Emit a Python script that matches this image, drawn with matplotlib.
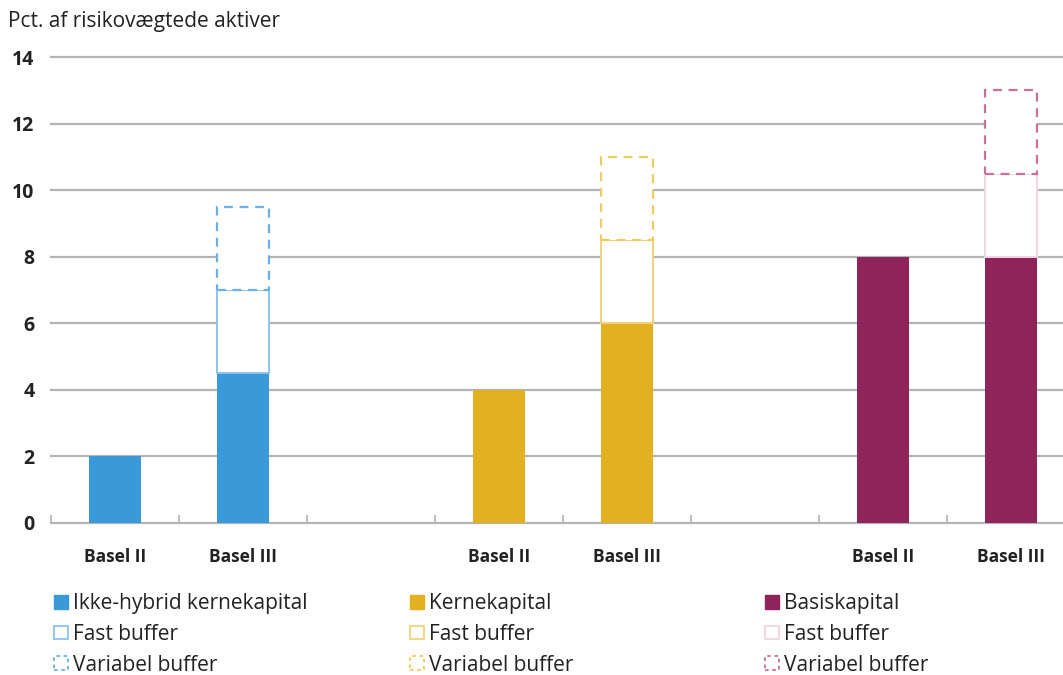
import matplotlib
matplotlib.use("Agg")
import matplotlib.pyplot as plt
from matplotlib.patches import Patch

# ---- data ----
categories = ["Basel II", "Basel III", "", "Basel II", "Basel III", "", "Basel II", "Basel III"]
core = [2.0, 4.5, 0.0, 4.0, 6.0, 0.0, 8.0, 8.0]
fast_buffer = [0.0, 2.5, 0.0, 0.0, 2.5, 0.0, 0.0, 2.5]
variable_buffer = [0.0, 2.5, 0.0, 0.0, 2.5, 0.0, 0.0, 2.5]
group_of = [0, 0, None, 1, 1, None, 2, 2]
legend_core_labels = ["Ikke-hybrid kernekapital", "Kernekapital", "Basiskapital"]
legend_fast_label = "Fast buffer"
legend_var_label = "Variabel buffer"
y_title = "Pct. af risikovægtede aktiver"
yticks = [0, 2, 4, 6, 8, 10, 12, 14]

# styles
fill_colors = ["#3a9ad9", "#e3b021", "#8e2459"]
fast_edge = ["#8cc4ea", "#f0d37a", "#f0d6e2"]
var_edge = ["#6ab2e4", "#f0cc5e", "#c8709a"]

plt.rcParams['font.family'] = ['Open Sans', 'DejaVu Sans']

fig = plt.figure(figsize=(10.63, 6.75), dpi=100)
W, H = 1063, 675
x0, x1 = 51, 1075
y0, y14 = 523, 57
ytop = 14.1
hpx = (y0 - y14) * ytop / 14
ax = fig.add_axes([x0 / W, (H - y0) / H, (x1 - x0) / W, hpx / H])
ax.set_xlim(-0.5, 7.5)
ax.set_ylim(0, ytop)

xs = list(range(len(categories)))
bw = 0.41
for i in xs:
    g = group_of[i]
    if g is None:
        continue
    ax.bar(i, core[i], width=bw, color=fill_colors[g], edgecolor='none', zorder=3)
    if fast_buffer[i] > 0:
        ax.bar(i, fast_buffer[i], bottom=core[i], width=bw, facecolor='white',
               edgecolor=fast_edge[g], linewidth=1.4, zorder=3)
    if variable_buffer[i] > 0:
        ax.bar(i, variable_buffer[i], bottom=core[i] + fast_buffer[i], width=bw,
               facecolor='white', edgecolor=var_edge[g], linewidth=1.6,
               linestyle=(0, (4, 3)), zorder=4)

# grid
for y in yticks[1:]:
    ax.axhline(y, color='#b4b4b4', linewidth=1.6, zorder=1, clip_on=False)
for s in ['top', 'right', 'left']:
    ax.spines[s].set_visible(False)
ax.spines['bottom'].set_color('#b4b4b4')
ax.spines['bottom'].set_linewidth(1.6)
ax.spines['bottom'].set_zorder(2)

ax.set_yticks(yticks)
ax.set_yticklabels([str(v) for v in yticks], fontsize=14, fontweight='bold', color='#222222')
ax.tick_params(axis='y', length=0, pad=12)

ax.set_xticks(xs)
ax.set_xticklabels(categories, fontsize=12.5, fontweight='bold', color='#222222')
ax.tick_params(axis='x', which='major', length=0, pad=18)
ax.set_xticks([i - 0.5 for i in xs], minor=True)
ax.tick_params(axis='x', which='minor', direction='in', length=6, width=1.2, color='#b4b4b4')

fig.text(8 / W, 1 - 22 / H, y_title, fontsize=15, color='#222222', va='center', ha='left')

# legends
col_x = [54, 410, 765]
for g in range(3):
    handles = [
        Patch(facecolor=fill_colors[g], edgecolor=fill_colors[g], label=legend_core_labels[g]),
        Patch(facecolor='white', edgecolor=fast_edge[g], linewidth=1.3, label=legend_fast_label),
        Patch(facecolor='white', edgecolor=var_edge[g], linewidth=1.3, linestyle=(0, (2, 2)),
              label=legend_var_label),
    ]
    leg = fig.legend(handles=handles, loc='upper left',
                     bbox_to_anchor=(col_x[g] / W, 1 - 593 / H), frameon=False,
                     handlelength=0.65, handleheight=0.65, handletextpad=0.25,
                     labelspacing=0.47, fontsize=15, borderaxespad=0, borderpad=0)
    for t in leg.get_texts():
        t.set_color('#222222')

fig.savefig("out.png", dpi=100)
